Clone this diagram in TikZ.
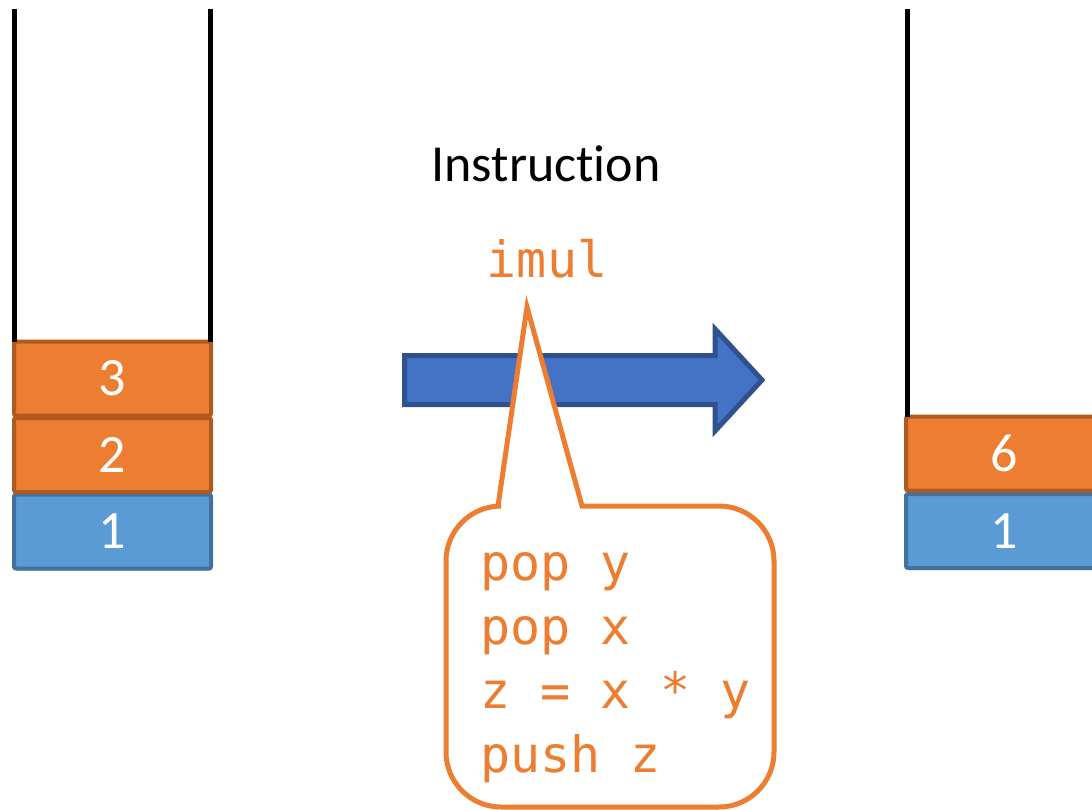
\documentclass[tikz,border=0pt]{standalone}
\usepackage{fontspec}
\setmainfont{Carlito}[Ligatures=NoCommon]
\setmonofont{DejaVu Sans Mono}
\usetikzlibrary{shadows}

\definecolor{orFill}{HTML}{ED7D31}
\definecolor{orLine}{HTML}{AE5A21}
\definecolor{blFill}{HTML}{5B9BD5}
\definecolor{blLine}{HTML}{41719C}
\definecolor{arFill}{HTML}{4472C4}
\definecolor{arLine}{HTML}{2F528F}

\tikzset{
  cell/.style={rectangle, rounded corners=2pt, line width=4pt,
    minimum width=197pt, minimum height=74pt, inner sep=0pt, outer sep=0pt,
    text=white, font=\fontsize{54}{64}\selectfont},
  topcell/.style={cell, fill=orFill, draw=orLine},
  basecell/.style={cell, fill=blFill, draw=blLine,
    drop shadow={shadow xshift=1pt, shadow yshift=-2pt, opacity=0.2, fill=black}},
  wall/.style={line width=5pt, black},
  code/.style={font=\ttfamily\fontsize{50}{64}\selectfont, text=orFill,
    inner sep=0pt, outer sep=0pt},
  bubble/.style={draw=orFill, fill=white, line width=5pt, line join=miter},
  bigarrow/.style={fill=arFill, draw=arLine, line width=5pt, line join=miter}
}

\begin{document}
\begin{tikzpicture}[x=1pt, y=-1pt]
\useasboundingbox (0,0) rectangle (1092,810);
\clip (0,0) rectangle (1092,810);

% left stack: walls and three cells
\coordinate (lwallL) at (14.5,9);
\coordinate (lwallR) at (210.5,9);
\node[basecell] (lc1) at (112.5,531.5) {1};
\node[topcell]  (lc2) at (112.5,455) {2};
\node[topcell]  (lc3) at (112.5,378.5) {3};
\draw[wall] (lwallL) -- (lwallL |- lc3.north);
\draw[wall] (lwallR) -- (lwallR |- lc3.north);

% right stack: wall and two cells
\coordinate (rwallL) at (907,9);
\node[basecell] (rc1) at (1004.5,531) {1};
\node[topcell]  (rc6) at (1004.5,453.5) {6};
\draw[wall] (rwallL) -- (rwallL |- rc6.north);

% the transition arrow
\draw[bigarrow] (404.5,355.5) -- (715,355.5) -- (715,329) -- (762,380)
  -- (715,431) -- (715,404.5) -- (404.5,404.5) -- cycle;

% instruction label
\node[anchor=base, font=\fontsize{52}{62}\selectfont, inner sep=0pt] (title) at (546,182) {Instruction};
\node[code, anchor=base] (instr) at (547,278) {imul};

% speech bubble with the expansion of the instruction
\draw[bubble] (498,506) -- (527,307) -- (582,506) -- (719,506)
  arc[start angle=-90, end angle=0, radius=55] -- (774,752)
  arc[start angle=0, end angle=90, radius=55] -- (501,807)
  arc[start angle=90, end angle=180, radius=55] -- (446,561)
  arc[start angle=180, end angle=270, radius=55] -- cycle;

\node[code, anchor=base west] (s1) at (480,580) {pop y};
\node[code, anchor=base west] (s2) at (480,644) {pop x};
\node[code, anchor=base west] (s3) at (480,708) {z = x * y};
\node[code, anchor=base west] (s4) at (480,772) {push z};
\end{tikzpicture}
\end{document}
